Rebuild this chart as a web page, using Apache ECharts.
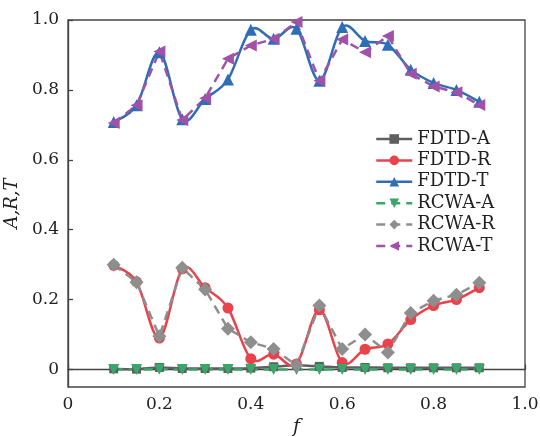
<!DOCTYPE html>
<html>
<head>
<meta charset="utf-8">
<script src="https://cdn.jsdelivr.net/npm/echarts@6/dist/echarts.min.js"></script>
<style>
html,body{margin:0;padding:0;background:#fff;}
#chart{width:540px;height:437px;}
</style>
</head>
<body>
<div id="chart"></div>
<script>
var fValues = [0.1,0.15,0.2,0.25,0.3,0.35,0.4,0.45,0.5,0.55,0.6,0.65,0.7,0.75,0.8,0.85,0.9];
var fdtdA = [0.002,0.001,0.006,0.003,0.003,0.003,0.004,0.008,0.012,0.009,0.006,0.006,0.005,0.005,0.005,0.005,0.005];
var fdtdR = [0.298,0.251,0.090,0.288,0.234,0.176,0.031,0.044,0.016,0.171,0.020,0.058,0.073,0.143,0.183,0.200,0.234];
var fdtdT = [0.708,0.756,0.908,0.716,0.774,0.830,0.972,0.946,0.975,0.826,0.980,0.940,0.929,0.858,0.820,0.800,0.766];
var rcwaA = [0.000,0.000,0.001,0.000,0.000,0.000,0.000,0.000,0.000,0.000,0.000,0.000,0.000,0.000,0.000,0.000,0.000];
var rcwaR = [0.300,0.250,0.095,0.291,0.229,0.117,0.078,0.059,0.012,0.183,0.059,0.100,0.049,0.162,0.197,0.214,0.248];
var rcwaT = [0.705,0.756,0.910,0.714,0.776,0.889,0.927,0.946,0.994,0.826,0.944,0.908,0.954,0.846,0.810,0.793,0.757];
var xTicks = [0,0.2,0.4,0.6,0.8,1.0];
var yTicks = [0,0.2,0.4,0.6,0.8,1.0];
var seriesNames = ['FDTD-A','FDTD-R','FDTD-T','RCWA-A','RCWA-R','RCWA-T'];

function pairs(ys){ return fValues.map(function(x,i){ return [x, ys[i]]; }); }
function fmt(v){ return Math.abs(v) < 1e-9 ? '0' : v.toFixed(1); }

var FONT = 'DejaVu Serif';
var chart = echarts.init(document.getElementById('chart'), null, {renderer:'canvas'});

// marker + (optionally) straight line series
function mk(name, data, color, symbol, size, rotate, dashed, showLine){
  return {
    name: name, type: 'line', data: pairs(data),
    smooth: false, symbol: symbol, symbolSize: size, symbolRotate: rotate,
    showAllSymbol: true,
    itemStyle: {color: color, opacity: 1},
    lineStyle: {color: color, width: 2.5, type: dashed ? [9,6] : 'solid', opacity: showLine ? 1 : 0},
    emphasis: {disabled: true},
    animation: false
  };
}

// spline curve through the data points, positioned via the axis scales (api.coord)
function curve(name, ys, color){
  return {
    type: 'custom', name: name + ' curve', data: pairs(ys), silent: true,
    animation: false,
    renderItem: function(params, api){
      var i = params.dataIndex, n = ys.length;
      if (i >= n - 1) return null;
      function p(k){ k = Math.max(0, Math.min(n - 1, k)); return api.coord([fValues[k], ys[k]]); }
      var p0 = p(i - 1), p1 = p(i), p2 = p(i + 1), p3 = p(i + 2);
      var t = 1 / 6;
      return {
        type: 'bezierCurve',
        shape: {
          x1: p1[0], y1: p1[1], x2: p2[0], y2: p2[1],
          cpx1: p1[0] + (p2[0] - p0[0]) * t, cpy1: p1[1] + (p2[1] - p0[1]) * t,
          cpx2: p2[0] - (p3[0] - p1[0]) * t, cpy2: p2[1] - (p3[1] - p1[1]) * t
        },
        style: {stroke: color, fill: null, lineWidth: 2.5, lineCap: 'round'}
      };
    }
  };
}

var colors = ['#5f5f5f', '#e8434c', '#2f6eb7', '#3aa66a', '#8e8e8e', '#a052a8'];

chart.setOption({
  animation: false,
  backgroundColor: '#fff',
  grid: {left: 68, right: 15, top: 20, bottom: 50, outerBoundsMode: 'none', containLabel: false,
         show: true, borderColor: '#444', borderWidth: 1.3, backgroundColor: 'transparent'},
  legend: {
    orient: 'vertical', left: 370, top: 125,
    itemWidth: 36, itemHeight: 12, itemGap: 3.4,
    lineStyle: {width: 2.5, opacity: 1},
    textStyle: {fontFamily: FONT, fontSize: 18, color: '#222'},
    data: seriesNames
  },
  xAxis: {
    type: 'value', min: 0, max: 1, interval: 0.2,
    name: 'f', nameLocation: 'middle', nameGap: 28,
    nameTextStyle: {fontFamily: FONT, fontStyle: 'italic', fontSize: 19, color: '#222'},
    axisLine: {show: true, lineStyle: {color: '#444', width: 1.3}},
    axisTick: {show: true, inside: true, length: 5, lineStyle: {color: '#444', width: 1.3}, customValues: xTicks},
    axisLabel: {fontFamily: FONT, fontSize: 17, color: '#222', margin: 9, formatter: fmt, customValues: xTicks},
    splitLine: {show: false}
  },
  yAxis: {
    type: 'value', min: -0.05, max: 1,
    name: 'A,R,T', nameLocation: 'middle', nameGap: 45,
    nameTextStyle: {fontFamily: FONT, fontStyle: 'italic', fontSize: 18, color: '#222'},
    axisLine: {show: true, lineStyle: {color: '#444', width: 1.3}},
    axisTick: {show: true, inside: true, length: 5, lineStyle: {color: '#444', width: 1.3}, customValues: yTicks},
    axisLabel: {fontFamily: FONT, fontSize: 17, color: '#222', margin: 9, formatter: fmt, customValues: yTicks},
    splitLine: {show: false}
  },
  series: [
    curve(seriesNames[0], fdtdA, colors[0]),
    mk(seriesNames[0], fdtdA, colors[0], 'rect', 9, 0, false, false),
    curve(seriesNames[1], fdtdR, colors[1]),
    mk(seriesNames[1], fdtdR, colors[1], 'circle', 11, 0, false, false),
    curve(seriesNames[2], fdtdT, colors[2]),
    mk(seriesNames[2], fdtdT, colors[2], 'triangle', 12, 0, false, false),
    mk(seriesNames[3], rcwaA, colors[3], 'triangle', 11, 180, true, true),
    mk(seriesNames[4], rcwaR, colors[4], 'diamond', 14, 0, true, true),
    mk(seriesNames[5], rcwaT, colors[5], 'triangle', 12, 90, true, true)
  ]
});
</script>
</body>
</html>
